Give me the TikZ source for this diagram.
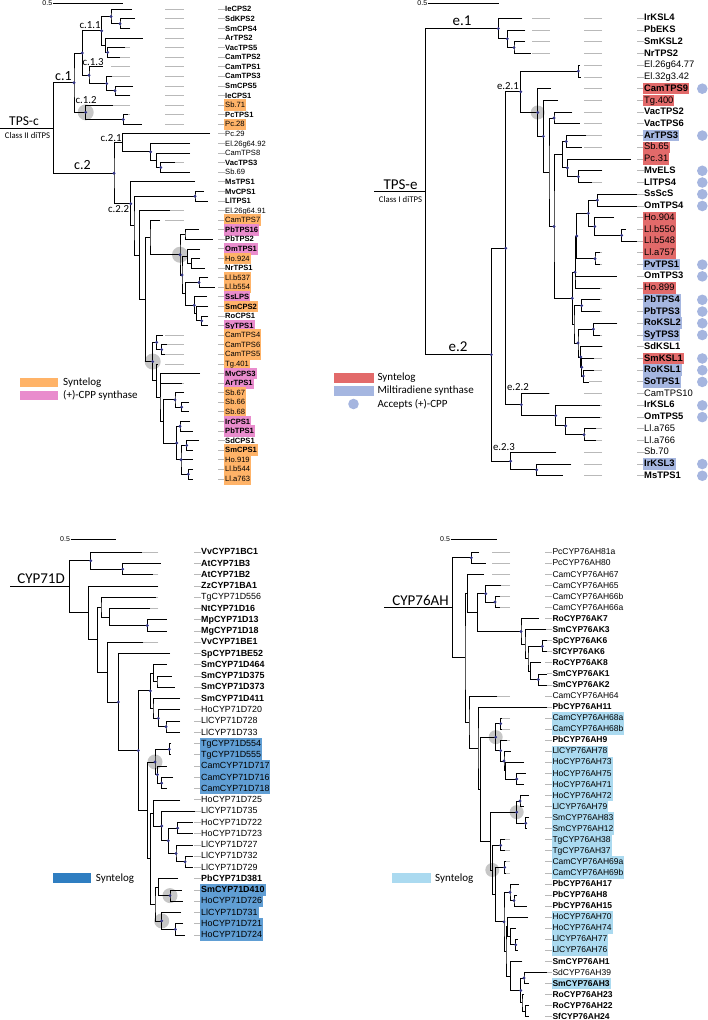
\documentclass[tikz,border=0pt]{standalone}
\usepackage{fontspec}
\setmainfont{Liberation Sans}
\newfontfamily\calfont{Carlito}
\usetikzlibrary{calc,backgrounds}

\definecolor{synorange}{RGB}{255,179,104}
\definecolor{cpppink}{RGB}{233,140,205}
\definecolor{synred}{RGB}{226,106,106}
\definecolor{miltiblue}{RGB}{165,182,224}
\definecolor{cppdot}{RGB}{165,181,223}
\definecolor{syndark}{RGB}{47,126,193}
\definecolor{syndarklab}{RGB}{96,158,212}
\definecolor{synlight}{RGB}{171,218,240}
\definecolor{nodedot}{RGB}{52,54,135}

\newcommand\lfs{\fontsize{7.6}{8}\selectfont}

\tikzset{
  br/.style={line width=0.85pt},
  lead/.style={gray!55, line width=0.9pt},
  lab/.style={anchor=west, inner xsep=1pt, inner ysep=0.12em, text height=0.72em, text depth=0.2em, font=\lfs},
  lN/.style={lab},
  lB/.style={lab, font=\lfs\bfseries},
  lO/.style={lab, fill=synorange},
  lOB/.style={lB, fill=synorange},
  lP/.style={lB, fill=cpppink},
  lR/.style={lab, fill=synred},
  lRB/.style={lB, fill=synred},
  lBB/.style={lB, fill=miltiblue},
  lD/.style={lab, fill=syndarklab},
  lDB/.style={lB, fill=syndarklab},
  lL/.style={lab, fill=synlight},
  lLB/.style={lB, fill=synlight},
  clade/.style={font=\calfont\fontsize{15}{15}\selectfont, inner sep=0pt},
  subclade/.style={font=\calfont\fontsize{10.8}{11}\selectfont, inner sep=0pt},
  cladenote/.style={font=\calfont\fontsize{8.7}{9}\selectfont, inner sep=0pt},
  legtxt/.style={font=\calfont\fontsize{11}{12}\selectfont, anchor=west, inner sep=0pt},
  bar/.style={line width=0.9pt},
  barlab/.style={font=\fontsize{7}{7}\selectfont, anchor=east, inner sep=0.6pt},
  knot/.style={fill=nodedot},
  hl/.style={fill=black!22},
}

\begin{document}
\begin{tikzpicture}[x=1pt,y=-1pt]
\useasboundingbox (0,0) rectangle (708,1020);

% ---------------- TPS-c
\begin{scope}
\renewcommand\lfs{\fontsize{7.6}{8}\selectfont}
\tikzset{lead/.append style={dash pattern=on 19pt off 34.5pt, dash phase=12pt}}
\draw[bar] (53,3.3) -- (123,3.3);
\node[barlab] (sa) at (53,3.3) {0.5};
\foreach \rw/\tp/\nm/\st in {0/132/IeCPS2/lB,1/135/SdKPS2/lB,2/130/SmCPS4/lB,3/142.7/ArTPS2/lB,4/125/VacTPS5/lB,5/120/CamTPS2/lB,6/103/CamTPS1/lB,7/112/CamTPS3/lB,8/133/SmCPS5/lB,9/130/IeCPS1/lB,10/112.7/Sb.71/lO,11/127.7/PcTPS1/lB,12/141.7/Pc.28/lO,13/210/Pc.29/lN,14/190/El.26g64.92/lN,15/190/CamTPS8/lN,16/175/VacTPS3/lB,17/190/Sb.69/lN,18/195/MsTPS1/lB,19/204/MvCPS1/lB,20/208.3/LlTPS1/lB,21/170/El.26g64.91/lN,22/160/CamTPS7/lO,23/199/PbTPS16/lP,24/213/PbTPS2/lB,25/200/OmTPS1/lP,26/200/Ho.924/lO,27/205/NrTPS1/lB,28/208/Ll.b537/lO,29/215/Ll.b554/lO,30/207/SsLPS/lP,31/208/SmCPS2/lOB,32/208/RoCPS1/lB,33/208/SyTPS1/lP,34/163/CamTPS4/lO,35/167/CamTPS6/lO,36/165/CamTPS5/lO,37/157/Tg.401/lO,38/200/MvCPS3/lP,39/182/ArTPS1/lP,40/184/Sb.67/lO,41/189/Sb.66/lO,42/189/Sb.68/lO,43/190/IrCPS1/lP,44/193/PbTPS1/lP,45/199/SdCPS1/lB,46/193/SmCPS1/lOB,47/193/Ho.919/lO,48/193/Ll.b544/lO,49/193/Ll.a763/lO}{
  \coordinate (a\rw) at (\tp,9.3+\rw*9.585);
  \draw[lead] (225,9.3+\rw*9.585) -- (a\rw);
  \node[\st] (la\rw) at (224,9.3+\rw*9.585) {\nm};
}
\foreach \nd/\xx/\ca/\cb in {aN2/120/a1/a2,aN1/111/a0/aN2,aN4/107.7/a4/a5,aN3/105.3/a3/aN4,ac11/101.7/aN1/aN3,aB3/115/a8/a9,aB2/106.7/a7/aB3,ac13/89/a6/aB2,aA/82.3/ac11/ac13,aN5/123.3/a11/a12,ac12/85.7/a10/aN5,ac1/74/aA/ac12,aS3/160.7/a16/a17,aS2/156.7/a15/aS3,aS1/150.7/a14/aS2,ac21/122.7/a13/aS1,aM/195/a19/a20,aQ2/185/a23/a24,aQ5/191.7/a26/a27,aQ4/187.3/a25/aQ5,aQ7/199/a28/a29,aQ10/201.7/a32/a33,aQ9/196.7/a31/aQ10,aQ8/194.3/a30/aQ9,aQ6/185.3/aQ7/aQ8,aQ3/182/aQ4/aQ6,aQ1/180/aQ2/aQ3,aP4/150/a22/aQ1,aR2/161.7/a35/a36,aR1/156.7/a34/aR2,aR5b/181.7/a41/a42,aR5/175/a40/aR5b,aR7/180/a43/a44,aR9/186.7/a45/a46,aR10/188.3/a48/a49,aR8/181/aR9/aR10,aR6/176.7/aR7/aR8,aR4/163.3/aR5/aR6,aR3/160/a38/aR4,aRx/156.7/a37/aR3,aR0/152.7/aR1/aRx,aP3/145.3/aP4/aR0,aP2/139.3/a21/aP3,aP1/134/aM/aP2,ac22/130.7/a18/aP1,ac2/114/ac21/ac22,aroot/53.3/ac1/ac2}{
  \path ($(\ca)!.5!(\cb)$) coordinate (m);
  \coordinate (\nd) at (\xx,0 |- m);
  \draw[br] (\ca) -| (\nd) |- (\cb);
}
\draw[br] (aR3) |- (a39) (aR8) |- (a47);
\coordinate (aL) at (0,0 |- aroot);
\draw[br] (aL) -- (aroot);
\begin{scope}[on background layer]
  \foreach \nd in {ac12,aQ1,aR0} \fill[hl] (\nd) circle[radius=8pt];
\end{scope}
\foreach \nd in {aN1,aN2,aN4,ac11,aA,ac13,aB2,aB3,ac1,aN5,ac12,aS1,aS3,ac2,ac22,aM,aQ1,aQ3,aQ7,aQ8,aQ10,aR1,aR2,aR5,aR5b,aR7,aR6,aR8,aR9,aR10,aR0}
  \fill[knot] (\nd) circle[radius=1.6pt];
\node[clade,font=\calfont\fontsize{13.5}{14}\selectfont] (tpsc) at (24,121.5) {TPS-c};
\node[cladenote] (tpscnote) at (27.5,136) {Class II diTPS};
\node[clade,font=\calfont\fontsize{14}{14}\selectfont] (c1) at (63.5,76.5) {c.1};
\node[clade,font=\calfont\fontsize{14}{14}\selectfont] (c2) at (82.5,165) {c.2};
\node[subclade] (c11) at (90,25) {c.1.1};
\node[subclade] (c13) at (93,61.7) {c.1.3};
\node[subclade] (c12) at (86,100) {c.1.2};
\node[subclade] (c21) at (111,138) {c.2.1};
\node[subclade] (c22) at (118.5,209.3) {c.2.2};
% legend
\fill[synorange] (20,377.7) rectangle (58,386.7);
\node[legtxt] (lga1) at (63,382.2) {Syntelog};
\fill[cpppink] (20,391) rectangle (58,400);
\node[legtxt] (lga2) at (63,395.5) {(+)-CPP synthase};
\end{scope}

% ---------------- TPS-e
\begin{scope}
\renewcommand\lfs{\fontsize{9.4}{10}\selectfont}
\tikzset{lead/.append style={dash pattern=on 18pt off 34.5pt, dash phase=10.7pt}}
\draw[bar] (428,3.3) -- (499,3.3);
\node[barlab] (sb) at (428,3.3) {0.5};
\foreach \rw/\tp/\nm/\st in {0/522.3/IrKSL4/lB,1/525.3/PbEKS/lB,2/525/SmKSL2/lB,3/531.3/NrTPS2/lB,4/580/El.26g64.77/lN,5/581/El.32g3.42/lN,6/550.7/CamTPS9/lRB,7/558/Tg.400/lR,8/572.3/VacTPS2/lB,9/580/VacTPS6/lB,10/586.3/ArTPS3/lBB,11/582.3/Sb.65/lR,12/630.7/Pc.31/lR,13/602.3/MvELS/lB,14/592/LlTPS4/lB,15/637/SsScS/lB,16/637/OmTPS4/lB,17/614/Ho.904/lR,18/626/Ll.b550/lR,19/637/Ll.b548/lR,20/600/Ll.a757/lR,21/600/PvTPS1/lBB,22/617.3/OmTPS3/lB,23/600/Ho.899/lR,24/600/PbTPS4/lBB,25/600/PbTPS3/lBB,26/617.3/RoKSL2/lBB,27/600/SyTPS3/lBB,28/602/SdKSL1/lB,29/594/SmKSL1/lRB,30/594/RoKSL1/lBB,31/589/SoTPS1/lBB,32/549/CamTPS10/lN,33/600/IrKSL6/lB,34/600/OmTPS5/lB,35/596/Ll.a765/lN,36/596/Ll.a766/lN,37/556.3/Sb.70/lN,38/571.3/IrKSL3/lBB,39/563/MsTPS1/lB}{
  \coordinate (b\rw) at (\tp,18.3+\rw*11.73);
  \draw[lead] (644,18.3+\rw*11.73) -- (b\rw);
  \node[\st] (lb\rw) at (643,18.3+\rw*11.73) {\nm};
}
\foreach \nd/\xx/\ca/\cb in {bE1b/514/b2/b3,bE1a/507.3/b1/bE1b,bE1/498.3/b0/bE1a,bE21a/578.3/b4/b5,bV/554/b8/b9,bG1a/566.3/b10/b11,bG1c/578.3/b13/b14,bG1b/567.3/b12/bG1c,bG1/562.3/bG1a/bG1b,bH1/597.3/b15/b16,bH3/621.7/b18/b19,bH2/594.7/b17/bH3,bH4/588.3/bH1/bH2,bH5/595/b20/b21,bH6/576.7/bH4/bH5,bH7/575.7/bH6/b22,bH8/575/bH7/b23,bH9/581.7/b24/b25,bH10/593.3/b26/b27,bH12/583.3/b30/b31,bH13/581.7/b29/bH12,bH11/580.7/b28/bH13,bG5/578/bH10/bH11,bG4/574/bH9/bG5,bG2/572.3/bH8/bG4,bE21e/554/bG1/bG2,bE21d/549/bV/bE21e,bE21c/543.3/b7/bE21d,bE21b/537.7/b6/bE21c,bE21/520.7/bE21a/bE21b,bK3/584/b35/b36,bK2/565.7/b34/bK3,bK1/555.7/b33/bK2,bE22/521.3/b32/bK1,bE2x/505.7/bE21/bE22,bL1/536.7/b38/b39,bE23/510.7/b37/bL1,bE2/491.3/bE2x/bE23,broot/425.7/bE1/bE2}{
  \path ($(\ca)!.5!(\cb)$) coordinate (m);
  \coordinate (\nd) at (\xx,0 |- m);
  \draw[br] (\ca) -| (\nd) |- (\cb);
}
\coordinate (bL) at (374,0 |- broot);
\draw[br] (bL) -- (broot);
\begin{scope}[on background layer]
  \fill[hl] (bE21b) circle[radius=7pt];
\end{scope}
\foreach \nd in {bE1,bE1a,bE1b,bE21a,bE21,bE21b,bE21c,bV,bG1a,bG1b,bG1c,bE21e,bH1,bH2,bH3,bH4,bH5,bH6,bH8,bH9,bH10,bH11,bH12,bH13,bG5,bG2,bE2x,bE22,bK1,bK2,bK3,bE23,bL1,bE2}
  \fill[knot] (\nd) circle[radius=1.6pt];
\foreach \rw in {6,10,13,14,15,16,21,22,24,25,26,27,29,30,31,33,34,38,39}
  \fill[cppdot] (702.3,18.3+\rw*11.73) circle[radius=5.3pt];
\node[clade] (tpse) at (400.5,185) {TPS-e};
\node[cladenote] (tpsenote) at (400.5,199.3) {Class I diTPS};
\node[clade] (e1) at (462,20.5) {e.1};
\node[clade] (e2) at (458,346.5) {e.2};
\node[subclade] (e21) at (508,86) {e.2.1};
\node[subclade] (e22) at (518,387.3) {e.2.2};
\node[subclade] (e23) at (504,446.7) {e.2.3};
% legend
\fill[synred] (334.3,373) rectangle (374,383);
\node[legtxt] (lgb1) at (377.3,378) {Syntelog};
\fill[miltiblue] (334.3,386.3) rectangle (374,396);
\node[legtxt] (lgb2) at (377.3,391) {Miltiradiene synthase};
\fill[cppdot] (353.5,404) circle[radius=5.3pt];
\node[legtxt] (lgb3) at (377.3,404) {Accepts (+)-CPP};
\end{scope}

% ---------------- CYP71D
\begin{scope}
\renewcommand\lfs{\fontsize{8.9}{9.5}\selectfont}
\tikzset{lead/.append style={dash pattern=on 17pt off 36pt, dash phase=10.3pt}}
\draw[bar] (70.7,539.3) -- (116,539.3);
\node[barlab] (sc) at (70.7,539.3) {0.5};
\foreach \rw/\tp/\nm/\st in {0/141.7/VvCYP71BC1/lB,1/160.7/AtCYP71B3/lB,2/153.3/AtCYP71B2/lB,3/158.3/ZzCYP71BA1/lB,4/156/TgCYP71D556/lN,5/150/NtCYP71D16/lB,6/166.7/MpCYP71D13/lB,7/166.7/MgCYP71D18/lB,8/143.3/VvCYP71BE1/lB,9/170/SpCYP71BE52/lB,10/166.7/SmCYP71D464/lB,11/171.7/SmCYP71D375/lB,12/175/SmCYP71D373/lB,13/180/SmCYP71D411/lB,14/180/HoCYP71D720/lN,15/180/LlCYP71D728/lN,16/180/LlCYP71D733/lN,17/171/TgCYP71D554/lD,18/171/TgCYP71D555/lD,19/166.7/CamCYP71D717/lD,20/173/CamCYP71D716/lD,21/166.7/CamCYP71D718/lD,22/180/HoCYP71D725/lN,23/195/LlCYP71D735/lN,24/193/HoCYP71D722/lN,25/193/HoCYP71D723/lN,26/193/LlCYP71D727/lN,27/193/LlCYP71D732/lN,28/193/LlCYP71D729/lN,29/178/PbCYP71D381/lB,30/181.7/SmCYP71D410/lDB,31/183/HoCYP71D726/lD,32/181/LlCYP71D731/lD,33/183/HoCYP71D721/lD,34/185/HoCYP71D724/lD}{
  \coordinate (c\rw) at (\tp,552.3+\rw*11.256);
  \draw[lead] (201,552.3+\rw*11.256) -- (c\rw);
  \node[\st] (lc\rw) at (200,552.3+\rw*11.256) {\nm};
}
\foreach \nd/\xx/\ca/\cb in {cA2/122.7/c1/c2,cA1/90.7/c0/cA2,cC1/147.3/c6/c7,cC2/109.3/c5/cC1,cC3/101/c4/cC2,cD6a/157/c11/c12,cD6/153.7/c10/cD6a,cD7a/166/c15/c16,cD7b/158.3/c14/cD7a,cD7/153/c13/cD7b,cD4/150.3/cD6/cD7,cE1a/169.3/c17/c18,cE1c/161.7/c20/c21,cE1b/157.3/c19/cE1c,cE1/155/cE1a/cE1b,cF1/177.7/c24/c25,cF3/185/c27/c28,cF4/176/c26/cF3,cF5/168.3/cF1/cF4,cF6/161.7/c23/cF5,cF7/153.3/c22/cF6,cG1/170/c30/c31,cG2/158.3/c29/cG1,cG4/175.3/c33/c34,cG3/161.7/c32/cG4,cG5/155/cG2/cG3,cE2/150.3/cF7/cG5,cD5/147.3/cE1/cE2,cD3/138.3/cD4/cD5,cD2/118.3/c9/cD3,cD1/107.7/c8/cD2,cB2/97.3/cC3/cD1,cB1/88.3/c3/cB2,croot/69.3/cA1/cB1}{
  \path ($(\ca)!.5!(\cb)$) coordinate (m);
  \coordinate (\nd) at (\xx,0 |- m);
  \draw[br] (\ca) -| (\nd) |- (\cb);
}
\coordinate (cL) at (10,0 |- croot);
\draw[br] (cL) -- (croot);
\begin{scope}[on background layer]
  \foreach \nd in {cE1,cG1,cG3} \fill[hl] (\nd) circle[radius=7.5pt];
\end{scope}
\foreach \nd in {cA1,cA2,cC1,cD2,cD3,cD4,cD7a,cD7b,cE1,cE1a,cE1b,cE1c,cF1,cF3,cF4,cF5,cF6,cG1,cG3,cG4}
  \fill[knot] (\nd) circle[radius=1.6pt];
\node[clade] (cyp71) at (41,578.3) {CYP71D};
% legend
\fill[syndark] (52.7,873.3) rectangle (91,883.3);
\node[legtxt] (lgc1) at (95.7,878.3) {Syntelog};
\end{scope}

% ---------------- CYP76AH
\begin{scope}
\renewcommand\lfs{\fontsize{8.5}{9}\selectfont}
\tikzset{lead/.append style={dash pattern=on 18.3pt off 34.7pt, dash phase=10.7pt}}
\draw[bar] (450.7,539.3) -- (497.3,539.3);
\node[barlab] (sd) at (450.7,539.3) {0.5};
\foreach \rw/\tp/\nm/\st in {0/479/PcCYP76AH81a/lN,1/485.7/PcCYP76AH80/lN,2/484/CamCYP76AH67/lN,3/500.7/CamCYP76AH65/lN,4/500/CamCYP76AH66b/lN,5/500/CamCYP76AH66a/lN,6/539/RoCYP76AK7/lB,7/545.7/SmCYP76AK3/lB,8/547/SpCYP76AK6/lB,9/547/SfCYP76AK6/lB,10/540.7/RoCYP76AK8/lB,11/547/SmCYP76AK1/lB,12/547/SmCYP76AK2/lB,13/497.3/CamCYP76AH64/lN,14/547/PbCYP76AH11/lB,15/502/CamCYP76AH68a/lL,16/502/CamCYP76AH68b/lL,17/506.7/PbCYP76AH9/lB,18/510.7/LlCYP76AH78/lL,19/524/HoCYP76AH73/lL,20/525.7/HoCYP76AH75/lL,21/524/HoCYP76AH71/lL,22/529/HoCYP76AH72/lL,23/524/LlCYP76AH79/lL,24/529/SmCYP76AH83/lL,25/527/SmCYP76AH12/lL,26/505/TgCYP76AH38/lL,27/505/TgCYP76AH37/lL,28/506/CamCYP76AH69a/lL,29/506/CamCYP76AH69b/lL,30/519/PbCYP76AH17/lB,31/517/PbCYP76AH8/lB,32/527.3/PbCYP76AH15/lB,33/528/HoCYP76AH70/lL,34/515.7/HoCYP76AH74/lL,35/518/LlCYP76AH77/lL,36/518/LlCYP76AH76/lL,37/522.3/SmCYP76AH1/lB,38/547/SdCYP76AH39/lN,39/529/SmCYP76AH3/lLB,40/524/RoCYP76AH23/lB,41/529/RoCYP76AH22/lB,42/529/SfCYP76AH24/lB}{
  \coordinate (d\rw) at (\tp,552.3+\rw*11.057);
  \draw[lead] (552.3,552.3+\rw*11.057) -- (d\rw);
  \node[\st] (ld\rw) at (551.3,552.3+\rw*11.057) {\nm};
}
\foreach \nd/\xx/\ca/\cb in {dP/471.3/d0/d1,dR2/495/d4/d5,dR1/485.7/d3/dR2,dS1/542.3/d8/d9,dS2/538.3/d11/d12,dS3/530.7/d10/dS2,dS4/528/dS1/dS3,dS5/525/d7/dS4,dR3/521/d6/dS5,dR4/477.3/dR1/dR3,dR5/467.3/d2/dR4,dT2/500.7/d15/d16,dT6/516.7/d20/d21,dT5/505.7/d19/dT6,dT4/504/d18/dT5,dT3/500.7/d17/dT4,dT1/495.7/dT2/dT3,dT8/520/d22/d23,dT9/525.7/d24/d25,dT7/516.7/dT8/dT9,dU1/500.7/d26/d27,dU2/504.7/d28/d29,dY1/514/d31/d32,dY2/510/d30/dY1,dY6/515.7/d35/d36,dY7/510.7/d34/dY6,dY8/507.7/d33/dY7,dZ2/524/d38/d39,dZ4/525.7/d41/d42,dZ3/522/d40/dZ4,dZ1/520.7/dZ2/dZ3,dZ5/510.7/d37/dZ1,dY9/506/dY8/dZ5,dY3/504/dY2/dY9,dX6/495.7/dU2/dY3,dX5/492.3/dU1/dX6,dX4/490.7/dT7/dX5,dX3/480.7/dT1/dX4,dX2/478/d14/dX3,dX1/469/d13/dX2,dQ/465/dR5/dX1,droot/452.3/dP/dQ}{
  \path ($(\ca)!.5!(\cb)$) coordinate (m);
  \coordinate (\nd) at (\xx,0 |- m);
  \draw[br] (\ca) -| (\nd) |- (\cb);
}
\coordinate (dL) at (384,0 |- droot);
\draw[br] (dL) -- (droot);
\begin{scope}[on background layer]
  \foreach \nd in {dT1,dT7,dX5} \fill[hl] (\nd) circle[radius=7pt];
\end{scope}
\foreach \nd in {dP,dR1,dR2,dR3,dS1,dS2,dT1,dT2,dT3,dT4,dT6,dT7,dT8,dT9,dU1,dU2,dY1,dY2,dY3,dY6,dZ1,dZ2}
  \fill[knot] (\nd) circle[radius=1.6pt];
\node[clade] (cyp76) at (420.5,600) {CYP76AH};
% legend
\fill[synlight] (392.3,873.3) rectangle (430.7,883.3);
\node[legtxt] (lgd1) at (435,878.3) {Syntelog};
\end{scope}

\end{tikzpicture}
\end{document}
